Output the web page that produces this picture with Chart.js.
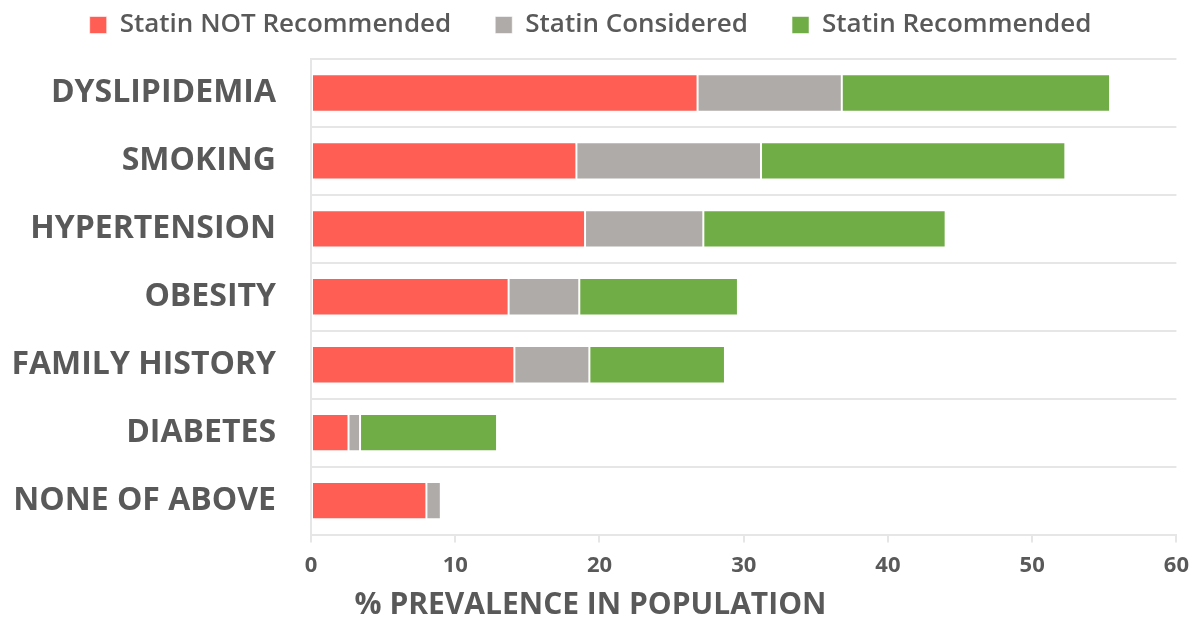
<!DOCTYPE html>
<html>
<head>
<meta charset="utf-8">
<script src="https://cdn.jsdelivr.net/npm/chart.js@4"></script>
<style>
  html, body { margin: 0; padding: 0; background: #ffffff; }
  #wrap { width: 1199px; height: 617px; }
</style>
</head>
<body>
<div id="wrap"><canvas id="chart" width="1199" height="617"></canvas></div>
<script>
// Risk factor categories (top to bottom)
const categories = ['DYSLIPIDEMIA', 'SMOKING', 'HYPERTENSION', 'OBESITY', 'FAMILY HISTORY', 'DIABETES', 'NONE OF ABOVE'];

// % prevalence in population, stacked by statin recommendation
const notRecommended = [26.8, 18.4, 19.0, 13.7, 14.1, 2.6, 8.0];
const considered     = [10.0, 12.8, 8.2, 4.9, 5.2, 0.8, 1.0];
const recommended    = [18.6, 21.1, 16.8, 11.0, 9.4, 9.5, 0];

const xTicks = [0, 10, 20, 30, 40, 50, 60];

const textColor = '#595959';
const gridColor = '#e6e6e6';
const fontFamily = '"Open Sans", "Noto Sans", sans-serif';

const legendGap = 44;      // horizontal gap between legend entries
const legendTop = -32;     // layout offset so the legend row sits near the top edge
const plotTop = 59;        // where the plot area begins
const categoryAxisWidth = 311;

const barStyle = { borderWidth: 1, borderColor: 'rgba(255,255,255,0.55)', borderSkipped: false };

// Keep the legend's wide horizontal gaps while controlling its height
const legendHeight = {
  id: 'legendHeight',
  beforeInit(chart) {
    const legend = chart.legend;
    if (!legend) return;
    const fit = legend.fit;
    legend.fit = function () {
      fit.call(this);
      this.height = plotTop - legendTop;
    };
  }
};

new Chart(document.getElementById('chart'), {
  type: 'bar',
  data: {
    labels: categories,
    datasets: [
      Object.assign({ label: 'Statin NOT Recommended', data: notRecommended, backgroundColor: '#ff5e55' }, barStyle),
      Object.assign({ label: 'Statin Considered', data: considered, backgroundColor: '#afaba8' }, barStyle),
      Object.assign({ label: 'Statin Recommended', data: recommended, backgroundColor: '#70ad47' }, barStyle)
    ]
  },
  plugins: [legendHeight],
  options: {
    indexAxis: 'y',
    responsive: false,
    animation: false,
    devicePixelRatio: 1,
    layout: { padding: { left: 0, right: 18, top: legendTop, bottom: -7 } },
    datasets: { bar: { categoryPercentage: 1.0, barPercentage: 0.55 } },
    scales: {
      x: {
        stacked: true,
        min: 0,
        max: 60,
        afterBuildTicks: (axis) => { axis.ticks = xTicks.map(v => ({ value: v })); },
        grid: { drawOnChartArea: false, drawTicks: true, tickLength: 8, color: gridColor, lineWidth: 2 },
        border: { display: true, color: gridColor, width: 2 },
        ticks: { color: textColor, font: { family: fontFamily, size: 22, weight: 'bold' }, padding: 10, maxRotation: 0 }
      },
      y: {
        stacked: true,
        afterFit: (scale) => { scale.width = categoryAxisWidth; },
        grid: { offset: true, color: gridColor, lineWidth: 2, drawTicks: false },
        border: { display: true, color: gridColor, width: 2 },
        ticks: { color: textColor, font: { family: fontFamily, size: 32, weight: 'bold' }, padding: 35 }
      }
    },
    plugins: {
      legend: {
        position: 'top',
        labels: {
          color: textColor,
          font: { family: fontFamily, size: 26, weight: '600' },
          boxWidth: 17,
          boxHeight: 17,
          padding: legendGap
        }
      },
      title: {
        display: true,
        position: 'bottom',
        text: '% PREVALENCE IN POPULATION',
        color: textColor,
        font: { family: fontFamily, size: 30, weight: 'bold', lineHeight: 1.1 },
        padding: { top: 0, bottom: 2 }
      },
      tooltip: { enabled: false }
    }
  }
});
</script>
</body>
</html>
